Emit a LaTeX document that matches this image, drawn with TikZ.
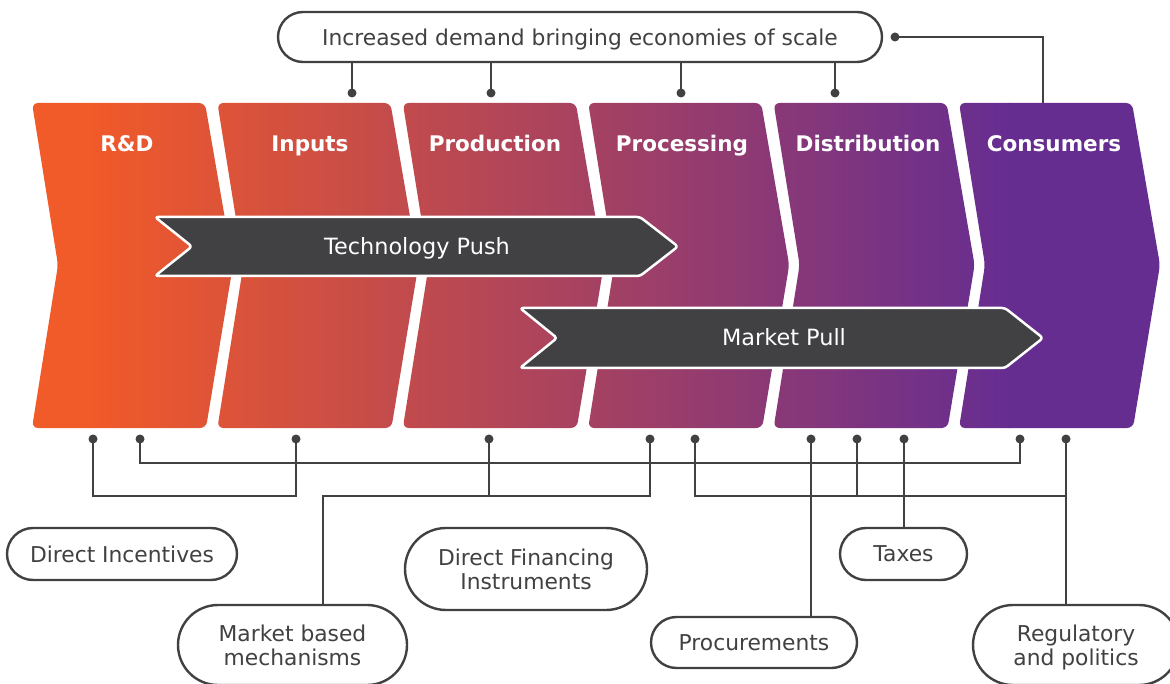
\documentclass[tikz,border=0pt]{standalone}
\usepackage{fontspec}
\setmainfont{DejaVu Sans}
\definecolor{ink}{HTML}{414042}
\definecolor{warm}{HTML}{F15A29}
\definecolor{cool}{HTML}{662D91}

% one chevron of the value chain, #1 = left x
\newcommand\chevron[1]{(#1+26,265) -- (#1,103) -- (#1+173,103) -- (#1+201,265) -- (#1+174,428) -- (#1,428) -- cycle}

\begin{document}
\begin{tikzpicture}[x=1pt,y=-1pt,
  every node/.style={inner sep=0pt, outer sep=0pt},
  chevtitle/.style={text=white, font=\bfseries\fontsize{21.5}{26}\selectfont, anchor=base},
  caption/.style={text=ink, font=\fontsize{21.8}{24}\selectfont, align=center, text depth=0pt},
  pill/.style={caption, draw=ink, line width=2.4pt, fill=white},
  wire/.style={draw=ink, line width=2.5pt},
  pin/.style={fill=ink},
  flow/.style={fill=ink, draw=white, line width=2.5pt, rounded corners=3pt, line join=round},
  flowtext/.style={text=white, font=\fontsize{22.4}{26}\selectfont, text depth=0pt}
]
\useasboundingbox (0,0) rectangle (1170,684);
\clip (0,0) rectangle (1170,684);

% value-chain chevrons with one continuous colour ramp
\begin{scope}
  \clip[rounded corners=6pt] \chevron{32} \chevron{217.4} \chevron{402.8}
        \chevron{588.2} \chevron{773.6} \chevron{959};
  \fill[warm] (0,95) rectangle (91,440);
  \shade[left color=warm, right color=cool] (90,95) rectangle (1010,440);
  \fill[cool] (1009,95) rectangle (1170,440);
\end{scope}

\node[chevtitle] (rd)   at (127,152)    {R\&D};
\node[chevtitle] (inp)  at (310,152)    {Inputs};
\node[chevtitle] (prod) at (495,152)    {Production};
\node[chevtitle] (proc) at (682,152)    {Processing};
\node[chevtitle] (dist) at (868,152)    {Distribution};
\node[chevtitle] (cons) at (1054,152)   {Consumers};

% push and pull bands
\path[flow] (155,217) -- (640,217) -- (678,246.5) -- (640,276) -- (155,276) -- (192,246.5) -- cycle;
\node[flowtext] (push) at (417,246) {Technology Push};
\path[flow] (520,308) -- (1005,308) -- (1043,338) -- (1005,368) -- (520,368) -- (557,338) -- cycle;
\node[flowtext] (pull) at (784,337) {Market Pull};

% attachment points
\coordinate (t1) at (352,93);
\coordinate (t2) at (491,93);
\coordinate (t3) at (681,93);
\coordinate (t4) at (835,93);
\coordinate (fb) at (895,37);
\coordinate (cons-top) at (1043,103);

\coordinate (rd-a) at (93,439);
\coordinate (rd-b) at (140,439);
\coordinate (in-a) at (296,439);
\coordinate (pr-a) at (489,439);
\coordinate (pc-a) at (650,439);
\coordinate (pc-b) at (695,439);
\coordinate (di-a) at (811,439);
\coordinate (di-b) at (857,439);
\coordinate (di-c) at (904,439);
\coordinate (co-a) at (1020,439);
\coordinate (co-b) at (1066,439);
\coordinate (mbmx) at (323,0);
\coordinate (busA) at (0,463);
\coordinate (busB) at (0,496);

% feedback loop on top
\node[pill, minimum width=604pt, minimum height=50pt, rounded corners=25pt] (scale) at (580,37)
  {Increased demand bringing economies of scale};
\draw[wire] (t1 |- scale.south) -- (t1);
\draw[wire] (t2 |- scale.south) -- (t2);
\draw[wire] (t3 |- scale.south) -- (t3);
\draw[wire] (t4 |- scale.south) -- (t4);
\draw[wire] (fb) -| (cons-top);

% policy instruments
\node[pill, minimum width=230pt, minimum height=52pt, rounded corners=26pt] (inc) at (122,554) {Direct Incentives};
\node[pill, minimum width=229pt, minimum height=80pt, rounded corners=40pt] (mbm) at (292.5,645) {Market based\\mechanisms};
\node[pill, minimum width=242pt, minimum height=82pt, rounded corners=41pt] (fin) at (526,569) {Direct Financing\\Instruments};
\node[pill, minimum width=206pt, minimum height=51pt, rounded corners=25.5pt] (procm) at (754,642.5) {Procurements};
\node[pill, minimum width=127pt, minimum height=52pt, rounded corners=26pt] (tax) at (903.5,554) {Taxes};
\node[pill, minimum width=206pt, minimum height=80pt, rounded corners=40pt] (reg) at (1076,645) {Regulatory\\and politics};

\draw[wire] (rd-a) |- (busB -| in-a) -- (in-a);
\draw[wire] (rd-b) |- (busA -| co-a) -- (co-a);
\draw[wire] (pc-a) |- (busB -| mbmx) -- (mbmx |- mbm.north);
\draw[wire] (pr-a) -- (pr-a |- busB);
\draw[wire] (pc-b) |- (busB -| co-b);
\draw[wire] (co-b) -- (co-b |- reg.north);
\draw[wire] (di-a) -- (di-a |- procm.north);
\draw[wire] (di-b) -- (di-b |- busB);
\draw[wire] (di-c) -- (di-c |- tax.north);

% pins
\foreach \p in {t1,t2,t3,t4,fb,rd-a,rd-b,in-a,pr-a,pc-a,pc-b,di-a,di-b,di-c,co-a,co-b}
  \fill[pin] (\p) circle (4.5pt);
\end{tikzpicture}
\end{document}
